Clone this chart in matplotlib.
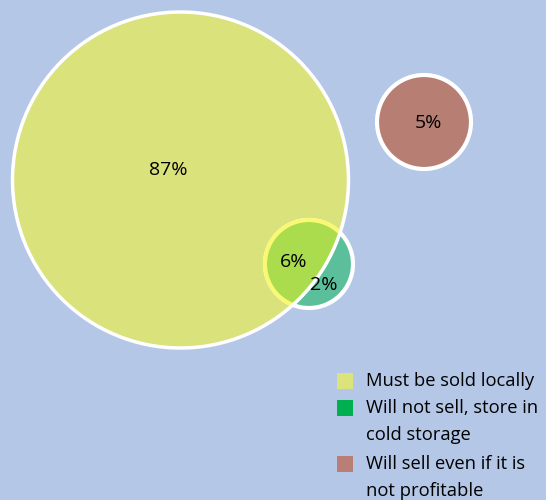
import matplotlib.pyplot as plt
from matplotlib.patches import Circle, Rectangle

# Data
labels = ["87%", "6%", "2%", "5%"]
legend_labels = ["Must be sold locally", "Will not sell, store in\ncold storage",
                 "Will sell even if it is\nnot profitable"]
legend_colors = ["#dde37b", "#00b050", "#b97f74"]

BG = "#b4c7e7"
plt.rcParams['font.family'] = ['Open Sans', 'DejaVu Sans']

fig = plt.figure(figsize=(5.46, 5.00), dpi=100)
fig.patch.set_facecolor(BG)
ax = fig.add_axes([0, 0, 1, 1])
ax.set_xlim(0, 546)
ax.set_ylim(500, 0)
ax.set_facecolor(BG)
ax.axis("off")

big_c, big_r = (180.5, 180), 168
sm_c, sm_r = (309, 264), 44

# big circle
big = Circle(big_c, big_r, facecolor="#dae27c", edgecolor="none", zorder=2)
ax.add_patch(big)
# small circle (part outside big circle)
ax.add_patch(Circle(sm_c, sm_r, facecolor="#5cbf9c", edgecolor="white", lw=3, zorder=3))
# overlap part
ov = Circle(sm_c, sm_r, facecolor="#aadc4e", edgecolor="#f8f872", lw=3, zorder=4)
ax.add_patch(ov)
ov.set_clip_path(big)
ax.add_patch(Circle(big_c, big_r, facecolor="none", edgecolor="white", lw=2.5, zorder=5))
# brown circle
ax.add_patch(Circle((424, 122), 47, facecolor="#b77e74", edgecolor="white", lw=3, zorder=2))

pos = [(168, 170), (294, 262), (324, 285), (428, 123)]
for (x, y), t in zip(pos, labels):
    ax.text(x, y, t, ha="center", va="center", fontsize=14, color="black", zorder=6)

# legend
rows = [381, 408, 464]
for y, c, t in zip(rows, legend_colors, legend_labels):
    ax.add_patch(Rectangle((337, y - 8), 16, 16, facecolor=c, edgecolor="none", zorder=6))
    for i, line in enumerate(t.split("\n")):
        ax.text(366, y + i * 27.5, line, ha="left", va="center", fontsize=13.2,
                color="black", zorder=6)

fig.savefig("out.png", dpi=100, facecolor=BG)
